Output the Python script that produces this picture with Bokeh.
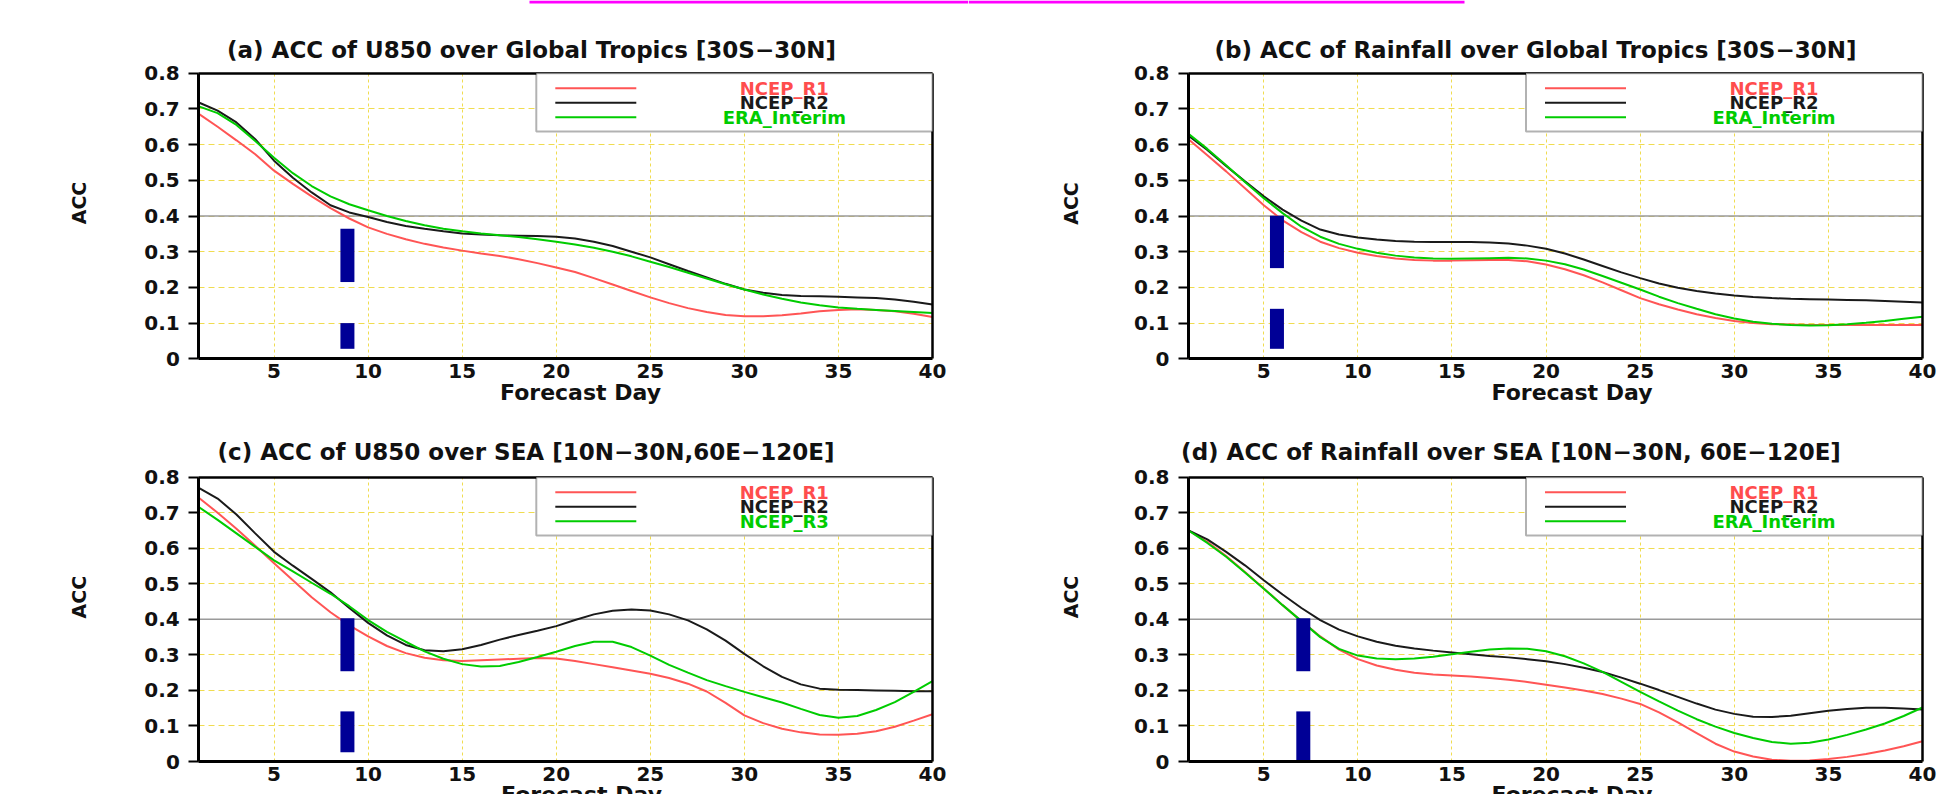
from math import pi
from bokeh.plotting import figure
from bokeh.models import (Range1d, Label, BoxAnnotation, Arrow, LinearAxis,
                          FixedTicker)
from bokeh.layouts import column, row
from bokeh.embed import file_html
from bokeh.resources import INLINE

# ---------------- data ----------------
days = list(range(1, 41))
xticks = [5, 10, 15, 20, 25, 30, 35, 40]
yticks = [0, 0.1, 0.2, 0.3, 0.4, 0.5, 0.6, 0.7, 0.8]
ytick_labels = ["0", "0.1", "0.2", "0.3", "0.4", "0.5", "0.6", "0.7", "0.8"]
x_min, x_max = 1, 40
y_min, y_max = 0.0, 0.8
threshold = 0.4

titles = [
    "(a) ACC of U850 over Global Tropics [30S\u221230N]",
    "(b) ACC of Rainfall over Global Tropics [30S\u221230N]",
    "(c) ACC of U850 over SEA [10N\u221230N,60E\u2212120E]",
    "(d) ACC of Rainfall over SEA [10N\u221230N, 60E\u2212120E]",
]
x_label = "Forecast Day"
y_label = "ACC"
legend_a = ["NCEP_R1", "NCEP_R2", "ERA_Interim"]
legend_b = ["NCEP_R1", "NCEP_R2", "ERA_Interim"]
legend_c = ["NCEP_R1", "NCEP_R2", "NCEP_R3"]
legend_d = ["NCEP_R1", "NCEP_R2", "ERA_Interim"]

a_r1 = [0.686, 0.650, 0.612, 0.573, 0.527, 0.490, 0.455, 0.422, 0.393, 0.368,
        0.350, 0.335, 0.322, 0.312, 0.303, 0.295, 0.288, 0.279, 0.268, 0.256,
        0.243, 0.226, 0.208, 0.190, 0.172, 0.156, 0.142, 0.131, 0.123, 0.119,
        0.119, 0.122, 0.127, 0.133, 0.137, 0.139, 0.137, 0.133, 0.126, 0.117]
a_r2 = [0.718, 0.695, 0.662, 0.615, 0.555, 0.507, 0.466, 0.430, 0.410, 0.397,
        0.383, 0.372, 0.364, 0.357, 0.351, 0.348, 0.346, 0.345, 0.344, 0.342,
        0.337, 0.328, 0.316, 0.300, 0.284, 0.265, 0.246, 0.228, 0.210, 0.194,
        0.185, 0.179, 0.176, 0.175, 0.174, 0.172, 0.170, 0.166, 0.160, 0.152]
a_g = [0.707, 0.688, 0.655, 0.610, 0.563, 0.520, 0.484, 0.455, 0.433, 0.416,
       0.400, 0.386, 0.374, 0.364, 0.357, 0.351, 0.346, 0.341, 0.335, 0.328,
       0.320, 0.311, 0.300, 0.287, 0.272, 0.257, 0.241, 0.225, 0.209, 0.194,
       0.180, 0.168, 0.158, 0.150, 0.144, 0.140, 0.137, 0.134, 0.131, 0.128]

b_r1 = [0.615, 0.570, 0.525, 0.478, 0.430, 0.388, 0.355, 0.328, 0.310, 0.297,
        0.288, 0.281, 0.277, 0.275, 0.275, 0.276, 0.277, 0.277, 0.273, 0.264,
        0.251, 0.234, 0.214, 0.192, 0.170, 0.153, 0.138, 0.125, 0.114, 0.106,
        0.100, 0.097, 0.096, 0.095, 0.095, 0.095, 0.095, 0.095, 0.095, 0.095]
b_r2 = [0.625, 0.585, 0.540, 0.497, 0.455, 0.418, 0.387, 0.362, 0.348, 0.340,
        0.334, 0.330, 0.328, 0.327, 0.327, 0.327, 0.326, 0.323, 0.317, 0.308,
        0.295, 0.278, 0.260, 0.242, 0.226, 0.211, 0.199, 0.190, 0.183, 0.177,
        0.173, 0.170, 0.168, 0.167, 0.166, 0.165, 0.164, 0.162, 0.160, 0.158]
b_g = [0.630, 0.588, 0.542, 0.495, 0.450, 0.408, 0.370, 0.342, 0.322, 0.308,
       0.297, 0.289, 0.284, 0.281, 0.280, 0.281, 0.282, 0.283, 0.281, 0.275,
       0.265, 0.250, 0.232, 0.213, 0.194, 0.174, 0.156, 0.140, 0.125, 0.113,
       0.104, 0.098, 0.095, 0.093, 0.094, 0.097, 0.101, 0.106, 0.112, 0.118]

c_r1 = [0.742, 0.700, 0.655, 0.607, 0.558, 0.510, 0.462, 0.420, 0.383, 0.352,
        0.325, 0.305, 0.292, 0.285, 0.283, 0.285, 0.287, 0.289, 0.291, 0.290,
        0.283, 0.274, 0.265, 0.256, 0.247, 0.235, 0.219, 0.197, 0.165, 0.130,
        0.108, 0.092, 0.082, 0.076, 0.075, 0.078, 0.085, 0.098, 0.115, 0.133]
c_r2 = [0.770, 0.740, 0.695, 0.642, 0.590, 0.551, 0.514, 0.476, 0.432, 0.390,
        0.355, 0.328, 0.313, 0.310, 0.316, 0.328, 0.343, 0.356, 0.368, 0.381,
        0.398, 0.414, 0.424, 0.428, 0.425, 0.414, 0.397, 0.372, 0.340, 0.303,
        0.268, 0.238, 0.217, 0.205, 0.202, 0.201, 0.200, 0.199, 0.198, 0.198]
c_g = [0.716, 0.680, 0.642, 0.604, 0.566, 0.535, 0.503, 0.472, 0.437, 0.398,
       0.365, 0.337, 0.310, 0.289, 0.274, 0.267, 0.269, 0.280, 0.294, 0.309,
       0.325, 0.337, 0.337, 0.322, 0.298, 0.272, 0.250, 0.229, 0.212, 0.196,
       0.181, 0.166, 0.148, 0.131, 0.123, 0.128, 0.145, 0.167, 0.196, 0.226]

d_r1 = [0.650, 0.618, 0.578, 0.533, 0.487, 0.440, 0.395, 0.352, 0.315, 0.288,
        0.270, 0.258, 0.250, 0.245, 0.242, 0.239, 0.235, 0.230, 0.224, 0.216,
        0.208, 0.200, 0.190, 0.177, 0.162, 0.138, 0.110, 0.080, 0.050, 0.028,
        0.014, 0.005, 0.002, 0.003, 0.007, 0.013, 0.021, 0.031, 0.043, 0.057]
d_r2 = [0.650, 0.625, 0.590, 0.552, 0.510, 0.470, 0.432, 0.398, 0.371, 0.352,
        0.337, 0.326, 0.318, 0.312, 0.307, 0.302, 0.297, 0.293, 0.288, 0.282,
        0.274, 0.264, 0.252, 0.236, 0.219, 0.201, 0.182, 0.163, 0.146, 0.134,
        0.126, 0.125, 0.129, 0.136, 0.143, 0.148, 0.151, 0.151, 0.149, 0.146]
d_g = [0.650, 0.615, 0.576, 0.532, 0.486, 0.440, 0.395, 0.350, 0.317, 0.298,
       0.290, 0.288, 0.290, 0.295, 0.302, 0.309, 0.315, 0.318, 0.317, 0.310,
       0.296, 0.276, 0.252, 0.224, 0.196, 0.169, 0.143, 0.119, 0.098, 0.080,
       0.066, 0.055, 0.050, 0.053, 0.062, 0.075, 0.090, 0.107, 0.128, 0.152]

# forecast-day markers (thick dark-blue dashes), one per panel
marker_day = [8.9, 5.7, 8.9, 7.1]
marker_lo_bottom = [0.028, 0.028, 0.026, 0.0]
marker_lo_top = [0.100, 0.140, 0.141, 0.141]
marker_hi_bottom = [0.215, 0.254, 0.254, 0.254]
marker_hi_top = [0.364, 0.401, 0.403, 0.403]

# ---------------- style / layout (pixels) ----------------
RED = "#ff5555"
BLACK = "#1a1a1a"
GREEN = "#00cc00"
NAVY = "#000096"
GRID = "#f0dc50"
FONT = "DejaVu Sans"
TXT = "#111111"

COL_W = [968, 969]
ROW_H = [406, 388]
PLOT_L = [198.3, 220.0]      # x pixel of day 1 in each column figure
PLOT_R = [932.0, 954.0]      # x pixel of day 40
PLOT_T = [72.7, 70.7]        # y pixel of ACC 0.8 in each row figure
PLOT_B = [358.3, 355.0]      # y pixel of ACC 0
TITLE_X = [531, 567, 525.5, 542.5]
TITLE_Y = [49, 49, 45, 45]           # vertical centre of title
ACC_X = [78.3, 102, 78.8, 102]
ACC_Y = [202.5, 203, 190.7, 190.5]
XLAB_X = [580, 603.5, 581, 603.5]
XLAB_Y = [391.7, 391.7, 388.4, 388.4]  # vertical centre of x label
MAGENTA = [(529, 969), (0, 496)]


def make_panel(idx, series, labels, col, rw):
    W, H = COL_W[col], ROW_H[rw]
    L, R, T, B = PLOT_L[col], PLOT_R[col], PLOT_T[rw], PLOT_B[rw]
    kx = (R - L) / (x_max - x_min)
    ky = (B - T) / (y_max - y_min)
    xr = Range1d(x_min - L / kx, x_max + (W - R) / kx)
    yr = Range1d(y_min - (H - B) / ky, y_max + T / ky)

    def Y(y):  # canvas y (down) -> screen units (up from bottom)
        return H - y

    p = figure(width=W, height=H, min_border=0, x_range=xr, y_range=yr,
               output_backend="svg", toolbar_location=None)
    p.background_fill_color = "white"
    p.border_fill_color = "white"
    p.outline_line_color = None

    # axes drawn at fixed data locations
    xa = p.xaxis[0]
    xa.fixed_location = y_min
    xa.bounds = (x_min, x_max)
    xa.ticker = xticks
    ya = p.yaxis[0]
    ya.fixed_location = x_min
    ya.bounds = (y_min, y_max)
    ya.ticker = yticks
    ya.major_label_overrides = {t: l for t, l in zip(yticks, ytick_labels)}
    for ax in (xa, ya):
        ax.axis_line_color = "black"
        ax.axis_line_width = 3
        ax.minor_tick_out = 0
        ax.minor_tick_in = 0
        ax.major_label_text_font = FONT
        ax.major_label_text_font_size = "20px"
        ax.major_label_text_font_style = "bold"
        ax.major_label_text_color = TXT
    xa.major_tick_out = 0
    xa.major_tick_in = 0
    xa.major_label_standoff = 5
    ya.major_tick_out = 10
    ya.major_tick_in = 0
    ya.major_tick_line_width = 2
    ya.major_label_standoff = 9

    top_ax = LinearAxis(fixed_location=y_max, bounds=(x_min, x_max),
                        ticker=FixedTicker(ticks=[]), axis_line_width=2.5,
                        major_tick_out=0, major_tick_in=0,
                        minor_tick_out=0, minor_tick_in=0)
    p.add_layout(top_ax, "above")
    right_ax = LinearAxis(fixed_location=x_max, bounds=(y_min, y_max),
                          ticker=FixedTicker(ticks=[]), axis_line_width=2.5,
                          major_tick_out=0, major_tick_in=0,
                          minor_tick_out=0, minor_tick_in=0)
    p.add_layout(right_ax, "right")

    # dashed yellow grid limited to the plotting box
    p.xgrid.grid_line_color = GRID
    p.xgrid.grid_line_dash = "3 3"
    p.ygrid.grid_line_color = GRID
    p.ygrid.grid_line_dash = "6 4"
    gx, gy = p.xgrid[0], p.ygrid[0]
    if "cross_bounds" in gx.properties():
        gx.cross_bounds = (y_min, y_max)
        gy.cross_bounds = (x_min, x_max)
    else:
        for kw in (dict(right=x_min), dict(left=x_max),
                   dict(bottom=y_max), dict(top=y_min)):
            p.add_layout(BoxAnnotation(fill_color="white", fill_alpha=1,
                                       line_color=None, level="underlay", **kw))

    # 0.4 reference line
    p.segment(x0=[days[0]], x1=[days[-1]], y0=[threshold], y1=[threshold],
              line_color="#9a9a9a", line_width=1.5)

    colors = [RED, BLACK, GREEN]
    for vals, c in zip(series, colors):
        p.line(days, vals, line_color=c, line_width=2)

    d = marker_day[idx]
    p.segment(x0=[d, d], x1=[d, d],
              y0=[marker_lo_bottom[idx], marker_hi_bottom[idx]],
              y1=[marker_lo_top[idx], marker_hi_top[idx]],
              line_color=NAVY, line_width=14, line_cap="butt")

    # legend (screen units)
    p.add_layout(BoxAnnotation(left=L + 337.5, right=R, top=Y(T), bottom=Y(T + 58.3),
                               left_units="screen", right_units="screen",
                               top_units="screen", bottom_units="screen",
                               fill_color="white", fill_alpha=1.0,
                               line_color="black", line_width=2))
    text_cols = ["#ff4d4d", BLACK, "#00cc00"]
    for k, (lab, c, tc) in enumerate(zip(labels, colors, text_cols)):
        yy = Y(T + 15 + 14.5 * k)
        p.add_layout(Arrow(x_start=L + 356.5, y_start=yy, x_end=L + 437.5, y_end=yy,
                           start_units="screen", end_units="screen",
                           start=None, end=None, line_color=c, line_width=2))
        p.add_layout(Label(x=L + 585.5, y=yy, x_units="screen", y_units="screen",
                           text=lab, text_align="center", text_baseline="middle",
                           text_font=FONT, text_font_size="18px",
                           text_font_style="bold", text_color=tc))

    # texts
    p.add_layout(Label(x=TITLE_X[idx], y=Y(TITLE_Y[idx]), x_units="screen",
                       y_units="screen", text=titles[idx], text_align="center",
                       text_baseline="middle", text_font=FONT,
                       text_font_size="23px", text_font_style="bold",
                       text_color=TXT))
    p.add_layout(Label(x=ACC_X[idx], y=Y(ACC_Y[idx]), x_units="screen",
                       y_units="screen", text=y_label, angle=pi / 2,
                       text_align="center", text_baseline="middle",
                       text_font=FONT, text_font_size="19px",
                       text_font_style="bold", text_color=TXT))
    p.add_layout(Label(x=XLAB_X[idx], y=Y(XLAB_Y[idx]), x_units="screen",
                       y_units="screen", text=x_label, text_align="center",
                       text_baseline="middle", text_font=FONT,
                       text_font_size="22px", text_font_style="bold",
                       text_color=TXT))
    if rw == 0:
        m0, m1 = MAGENTA[col]
        p.add_layout(BoxAnnotation(left=m0, right=m1, top=H, bottom=H - 3,
                                   left_units="screen", right_units="screen",
                                   top_units="screen", bottom_units="screen",
                                   fill_color="#ff00ff", fill_alpha=1.0,
                                   line_color=None))
    return p


pa = make_panel(0, [a_r1, a_r2, a_g], legend_a, 0, 0)
pb = make_panel(1, [b_r1, b_r2, b_g], legend_b, 1, 0)
pc = make_panel(2, [c_r1, c_r2, c_g], legend_c, 0, 1)
pd = make_panel(3, [d_r1, d_r2, d_g], legend_d, 1, 1)

layout = column(row(pa, pb), row(pc, pd))
open("out.html", "w").write(file_html(layout, INLINE))
